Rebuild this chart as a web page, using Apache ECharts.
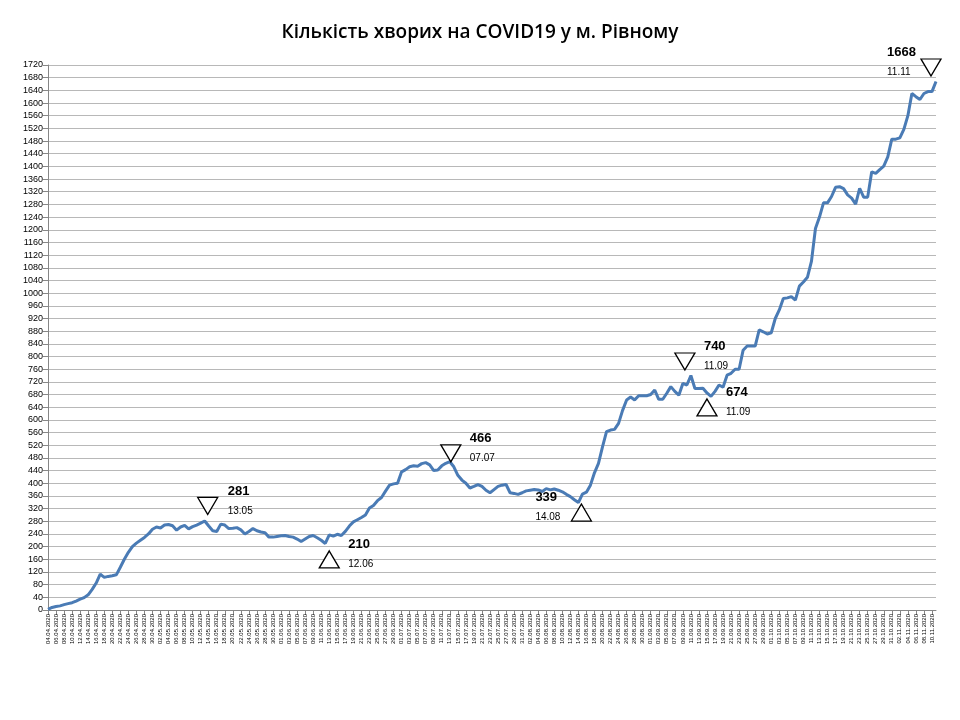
<!DOCTYPE html>
<html><head><meta charset="utf-8">
<script src="https://cdn.jsdelivr.net/npm/echarts@6/dist/echarts.min.js"></script>
<style>html,body{margin:0;background:#fff}#c{width:960px;height:720px}</style>
</head><body><div id="c"></div>
<script>
const startDate = [2020, 3, 4]; // 04.04.2020 (month 0-based)
const values = [2,8,11,13,17,20,23,28,34,39,48,65,85,113,103,106,108,111,135,160,
182,200,211,220,229,240,255,262,259,268,270,266,252,262,267,256,263,268,274,281,
265,250,248,271,268,257,258,260,253,240,248,257,250,246,244,230,230,232,234,235,
232,230,224,216,224,232,235,228,220,210,237,233,239,235,248,265,278,285,292,300,
322,330,345,355,375,394,398,400,436,443,452,455,454,462,465,458,440,442,455,463,
468,452,425,410,400,385,390,396,390,378,370,380,390,394,396,370,368,365,370,376,
378,380,379,374,383,379,382,378,373,365,358,348,339,366,372,394,433,463,515,563,
568,570,589,630,663,672,663,676,676,676,680,694,665,665,684,705,690,678,715,710,
740,699,699,700,685,674,690,710,703,741,747,760,760,820,833,833,833,884,878,871,
875,920,947,983,985,989,978,1022,1035,1050,1100,1204,1240,1285,1285,1305,1334,1336,1330,1310,
1300,1281,1331,1303,1303,1383,1378,1390,1401,1430,1486,1486,1490,1517,1560,1630,1620,1611,1630,1636,
1636,1668];
const yTicks = {min: 0, max: 1720, step: 40};
const annIdx   = [39, 69, 100, 132, 160, 165, 221];
const annVal   = [281, 210, 466, 339, 740, 674, 1668];
const annDate  = ['13.05','12.06','07.07','14.08','11.09','11.09','11.11'];
const annDown  = [true, false, true, false, true, false, true];
const triOff   = [[3,-15],[4,16],[1,-9],[3,10],[-6,-14],[-4,11],[-5,-14]];
const lblOff   = [[23,-20],[23,11],[20,-14],[-43,5],[13,-19],[15,6],[-49,-19]];

const categories = values.map((_, i) => {
  const d = new Date(startDate[0], startDate[1], startDate[2] + i);
  const p = n => String(n).padStart(2, '0');
  return p(d.getDate()) + '.' + p(d.getMonth() + 1) + '.' + d.getFullYear();
});

const mp = [];
annIdx.forEach((ix, k) => {
  mp.push({coord: [ix, annVal[k]], symbol: 'triangle', symbolSize: [20, 17],
    symbolRotate: annDown[k] ? 180 : 0, symbolOffset: triOff[k],
    itemStyle: {color: '#fff', borderColor: '#000', borderWidth: 1.3}, label: {show: false}});
  mp.push({coord: [ix, annVal[k]], symbol: 'circle', symbolSize: 0,
    label: {show: true, position: 'inside', align: 'left', verticalAlign: 'middle',
      offset: lblOff[k], formatter: '{a|' + annVal[k] + '}\n{b|' + annDate[k] + '}',
      rich: {a: {fontSize: 13, fontWeight: 'bold', color: '#000', lineHeight: 20, fontFamily: 'Liberation Sans'},
             b: {fontSize: 10, color: '#000', lineHeight: 20, fontFamily: 'Liberation Sans'}}}});
});

const chart = echarts.init(document.getElementById('c'));
chart.setOption({
  animation: false,
  title: {text: 'Кількість хворих на COVID19 у м. Рівному', left: 'center', top: 18,
    textStyle: {fontSize: 19, fontWeight: 600, color: '#000', fontFamily: 'Open Sans'}},
  grid: {left: 48, right: 24, top: 65, bottom: 110},
  xAxis: {type: 'category', data: categories, boundaryGap: false,
    axisLine: {lineStyle: {color: '#868686'}},
    axisTick: {show: true, interval: 1, lineStyle: {color: '#868686'}},
    axisLabel: {rotate: 90, interval: 1, fontSize: 6, color: '#000', fontFamily: 'Liberation Sans', margin: 4},
    splitLine: {show: false}},
  yAxis: {type: 'value', min: yTicks.min, max: yTicks.max, interval: yTicks.step,
    axisLine: {show: true, lineStyle: {color: '#868686'}},
    axisTick: {show: true, lineStyle: {color: '#868686'}},
    axisLabel: {fontSize: 9, color: '#000', fontFamily: 'Liberation Sans', margin: 5, formatter: v => String(v)},
    splitLine: {lineStyle: {color: '#b8b8b8', width: 1}}},
  series: [{type: 'line', data: values, symbol: 'none',
    lineStyle: {color: '#4a7bb5', width: 3}, markPoint: {data: mp, animation: false}}]
});
</script></body></html>
